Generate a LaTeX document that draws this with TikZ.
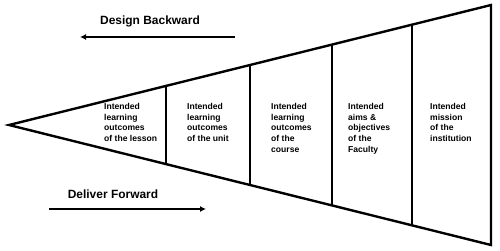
\documentclass[tikz,border=0pt]{standalone}
\usepackage{fontspec}
\setmainfont{Liberation Sans}
\usetikzlibrary{arrows.meta}
\begin{document}
\begin{tikzpicture}[x=1bp,y=-1bp,
  outline/.style={line width=2.4bp, line join=miter},
  divider/.style={line width=2.6bp},
  flow/.style={line width=1.8bp, -{Latex[length=6bp,width=6bp]}},
  title/.style={font=\fontsize{12}{14}\selectfont\bfseries, inner sep=0pt},
  cell/.style={font=\fontsize{8.6}{10.7}\selectfont\bfseries, align=left, anchor=north west, inner sep=0pt}]
\useasboundingbox (0,0) rectangle (500,250);
% funnel outline
\coordinate (apex) at (9,125);
\coordinate (tr) at (491,5);
\coordinate (br) at (491,245);
\draw[outline] (tr) -- (apex) -- (br) -- cycle;
% dividers between stages
\foreach \x/\n in {166/a,250/b,332/c,412/d}{
  \pgfmathsetmacro{\dy}{(\x-9)*0.248963}
  \coordinate (\n t) at (\x,125-\dy);
  \coordinate (\n b) at (\x,125+\dy);
  \draw[divider] (\n t) -- (\n b);
}
% stage labels
\node[cell] (s1) at (104,103) {Intended\\learning\\outcomes\\of the lesson};
\node[cell] (s2) at (187,103) {Intended\\learning\\outcomes\\of the unit};
\node[cell] (s3) at (271,103) {Intended\\learning\\outcomes\\of the\\course};
\node[cell] (s4) at (348,103) {Intended\\aims \&\\objectives\\of the\\Faculty};
\node[cell] (s5) at (430,103) {Intended\\mission\\of the\\institution};
% direction arrows
\node[title] (design) at (150,21) {Design Backward};
\coordinate (d1) at (235,37);
\coordinate (d2) at (80,37);
\draw[flow] (d1) -- (d2);
\node[title] (deliver) at (113,194) {Deliver Forward};
\coordinate (f1) at (49,209);
\coordinate (f2) at (206,209);
\draw[flow] (f1) -- (f2);
\end{tikzpicture}
\end{document}
